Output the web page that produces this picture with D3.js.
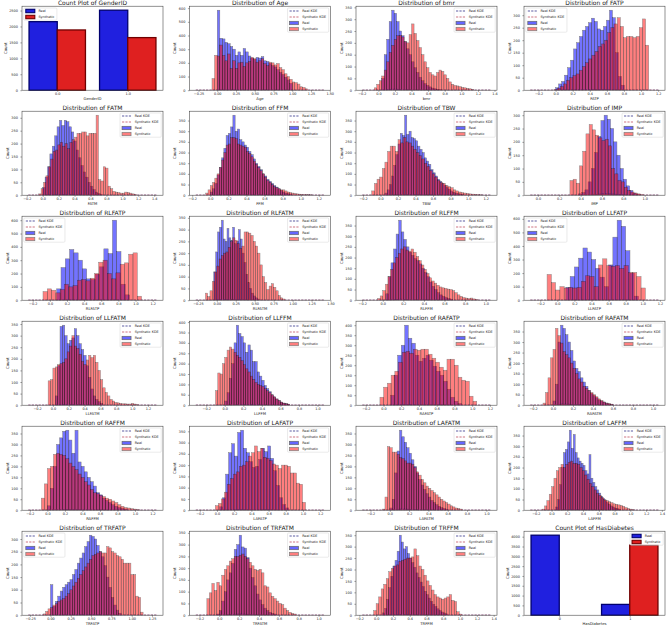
<!DOCTYPE html>
<html>
<head>
<meta charset="utf-8">
<script src="https://d3js.org/d3.v7.min.js"></script>
<style>
  body { margin: 0; background: #fff; }
  svg text { font-family: "DejaVu Sans", sans-serif; fill: #1a1a1a; }
</style>
</head>
<body>
<svg id="figure" width="669" height="626"></svg>
<script>
// ---------------- data ----------------

// count plots
const genderCats = ["0.0", "1.0"];
const genderReal = [2150, 2510];
const genderSyn = [1890, 1650];
const diabetesCats = ["0", "1"];
const diabetesReal = [4075, 550];
const diabetesSyn = [0, 3570];

// histogram counts (real / synthetic), one array per variable
const ageReal = [585,380,375,350,340,320,300,255,280,255,305,280,250,235,225,240,235,245,215,210,195,180,170,150,130,115,95,75,50];
const ageSyn = [85,255,250,330,255,215,265,160,215,160,200,205,175,200,210,240,230,205,215,230,195,180,205,200,185,195,165,150,120,100,80,60,55,45,25,20,10];
const bmrReal = [50,150,215,290,338,325,290,250,230,205,175,150,120,95,75,55,40,28,20,14,9,6,4,2];
const bmrSyn = [10,25,40,60,85,120,160,190,215,230,232,225,205,200,235,280,240,210,180,150,120,95,75,65,60,75,85,80,65,50,35,25,20,18,15,12,10,8,6,4];
const fatpReal = [10,25,35,60,90,120,165,190,215,240,255,270,288,275,245,240,255,280,320,290,150,55,20];
const fatpSyn = [3,8,15,25,40,50,58,65,80,95,110,125,140,155,175,185,200,230,250,265,290,255,210,215,215,210,215,250,285,180];
const fatmReal = [30,70,110,160,190,230,265,290,270,290,285,265,245,210,175,145,115,90,70,50,35,22,12,6,3];
const fatmSyn = [5,25,50,75,110,140,170,175,195,205,190,200,180,205,215,225,240,240,245,245,230,240,240,240,310,60,55,110,105,35,25,15,12,10,8,8,12,10,8,5,3];
const ffmReal = [15,30,55,95,130,175,220,280,290,320,375,300,310,260,250,235,225,205,190,170,150,135,120,100,90,75,65,55,45,38,30,22,15,10,7,5];
const ffmSyn = [10,25,45,60,80,100,130,165,200,235,240,270,270,265,240,235,230,225,205,195,180,160,145,130,115,100,85,70,60,50,40,35,30,25,25,20,15,12,10,8,6,5,4,3,3,2,2];
const tbwReal = [10,25,50,90,140,190,240,290,280,375,285,300,270,265,255,230,215,200,175,160,145,120,105,90,75,65,55,45,35,28,20,14,10,7,5,3];
const tbwSyn = [20,55,75,85,125,155,205,230,230,205,260,245,270,250,245,230,215,200,185,170,150,135,115,100,85,70,60,55,45,40,35,25,20,15,12,10,8,6,5,4,3,2];
const impReal = [5,10,20,50,100,160,220,280,300,285,250,200,150,100,60,35,18,8,3];
const impSyn = [55,60,45,110,165,230,265,245,225,215,205,210,185,100,80,55,50,30,18,12,8,5,3];
const rlfatpReal = [85,245,310,380,355,300,235,160,155,195,250,385,350,600,365,120,40];
const rlfatpSyn = [65,85,75,55,80,120,100,110,150,155,145,165,200,285,300,200,160,205,270,280,345,355,30];
const rlfatmReal = [120,205,290,310,340,260,250,305,265,255,310,240,250,300,260,200,160,110,75,50,30,18,10,5];
const rlfatmSyn = [30,15,40,80,120,145,175,190,200,205,225,250,265,255,240,220,230,290,290,285,275,250,230,200,150,100,75,45,60,70,55,40,20,10,5];
const rlffmReal = [30,110,175,240,310,375,320,285,250,225,210,195,185,170,150,130,110,85,65,50,35,25,18,12,8,5];
const rlffmSyn = [8,20,45,75,110,145,175,200,220,240,250,235,230,240,225,205,185,165,145,125,105,90,80,70,62,58,55,52,50,45,35,25,18,12,10,8,10,6,4];
const llfatpReal = [95,175,245,310,385,355,300,235,170,100,260,465,590,545,365,200,30];
const llfatpSyn = [190,130,75,100,90,95,90,95,140,180,175,100,260,305,255,250,255,235,255,205,205,175,90];
const llfatmReal = [40,170,340,345,300,265,280,290,330,300,265,240,215,170,120,70,40,25,15,8];
const llfatmSyn = [105,110,160,165,175,180,185,200,230,255,300,255,245,220,190,175,195,215,205,215,185,150,110,75,55,40,25,18,12,10,8,6,6,5,5,8,5,3];
const llffmReal = [20,60,130,200,300,385,345,330,300,255,290,265,210,210,160,140,120,95,80,65,50,40,30,22,15,10,7,5];
const llffmSyn = [70,155,150,200,230,265,280,270,255,240,230,215,195,175,160,140,125,110,100,95,90,80,70,60,50,40,30,22,15,10,7,5];
const rafatpReal = [50,150,250,300,400,335,310,250,220,235,250,225,195,170,150,120,80,40,20,8];
const rafatpSyn = [40,90,110,150,170,215,265,270,260,280,275,280,280,255,235,215,190,175,230,230,200,140,125,120,45,20];
const rafatmReal = [20,100,300,380,365,335,300,260,210,175,160,130,110,90,70,55,45,35,25,20,15,10,6,4];
const rafatmSyn = [10,60,130,225,265,365,330,295,255,240,225,200,175,150,125,110,90,80,70,60,50,40,30,22,15,10,8,5];
const raffmReal = [20,100,200,300,330,360,365,320,260,365,220,200,175,150,130,110,80,70,55,45,35,25,18,12,8,5];
const raffmSyn = [55,120,190,200,255,260,255,250,235,215,200,185,165,150,130,115,95,80,75,68,62,55,50,42,35,25,18,12,10,7,5,3];
const lafatpReal = [15,55,160,255,295,240,345,355,275,255,215,190,195,225,275,260,285,230,175,110,55,25,10];
const lafatpSyn = [20,30,50,80,115,140,160,170,195,200,215,240,255,285,260,275,235,230,220,205,200,185,200,200,195,165,165,120,115,35];
const lafatmReal = [10,50,170,270,365,335,310,285,260,230,200,170,140,115,95,75,60,45,35,25,18,12,8,5];
const lafatmSyn = [5,60,290,285,265,265,255,240,235,225,215,215,210,195,175,160,140,125,110,100,90,80,70,60,50,42,35,28,20,15,10,8,5];
const laffmReal = [15,50,120,200,270,285,320,375,290,355,270,245,230,220,210,185,170,260,150,130,110,95,80,65,55,45,35,28,20,15,10,7,5];
const laffmSyn = [5,20,45,75,110,150,185,200,215,200,215,225,230,220,220,215,200,185,165,145,125,110,95,80,70,60,50,45,40,35,30,28,25,22,18,12,8,5,3];
const trfatpReal = [120,35,55,75,95,110,120,130,140,160,180,205,225,245,270,290,315,310,300,275,250,230,195,150,110,70,40,20,8];
const trfatpSyn = [5,15,25,30,40,45,55,60,65,75,85,100,115,130,145,160,175,190,205,220,235,240,245,250,245,245,270,265,250,245,235,230,220,205,205,205,160,160,75,70,12];
const trfatmReal = [5,20,60,100,150,180,220,280,300,340,290,285,245,200,160,125,90,65,45,30,20,12,8,5];
const trfatmSyn = [70,95,135,105,140,125,170,195,210,230,240,250,250,255,260,250,240,225,210,195,190,195,180,125,120,95,80,70,60,50,45,30,20,12,8,5];
const trffmReal = [10,30,70,120,170,215,240,280,350,320,290,300,270,250,230,210,185,165,145,125,105,90,75,60,48,38,28,20,14,10,6];
const trffmSyn = [20,50,80,115,135,160,190,205,215,220,235,240,245,250,250,255,290,260,215,200,175,150,130,110,90,80,75,70,75,80,90,65,60,15,5];

const histVars = ["Age","bmr","FATP","FATM","FFM","TBW","IMP","RLFATP","RLFATM","RLFFM","LLFATP",
                  "LLFATM","LLFFM","RAFATP","RAFATM","RAFFM","LAFATP","LAFATM","LAFFM","TRFATP","TRFATM","TRFFM"];
const realCounts = [ageReal,bmrReal,fatpReal,fatmReal,ffmReal,tbwReal,impReal,rlfatpReal,rlfatmReal,rlffmReal,llfatpReal,
                    llfatmReal,llffmReal,rafatpReal,rafatmReal,raffmReal,lafatpReal,lafatmReal,laffmReal,trfatpReal,trfatmReal,trffmReal];
const synCounts = [ageSyn,bmrSyn,fatpSyn,fatmSyn,ffmSyn,tbwSyn,impSyn,rlfatpSyn,rlfatmSyn,rlffmSyn,llfatpSyn,
                   llfatmSyn,llffmSyn,rafatpSyn,rafatmSyn,raffmSyn,lafatpSyn,lafatmSyn,laffmSyn,trfatpSyn,trfatmSyn,trffmSyn];

// first bin edge and bin width (data units)
const realStart = [0.0,0.04,0.0,0.0,0.0,0.05,0.38,0.08,-0.04,0.03,0.1,0.03,0.0,0.08,0.0,0.0,0.03,0.0,0.05,0.0,-0.025,0.075];
const realStep = [0.0345,0.03,0.035,0.03,0.025,0.025,0.03,0.05,0.025,0.025,0.05,0.03,0.025,0.04,0.025,0.035,0.035,0.025,0.025,0.03,0.025,0.025];
const synStart = [-0.07,-0.05,-0.02,-0.05,-0.05,-0.1,0.30,-0.08,-0.15,-0.05,-0.12,-0.06,-0.1,-0.04,-0.1,-0.07,-0.02,-0.075,-0.12,-0.09,-0.125,-0.03];
const synStep = [0.0345,0.03,0.037,0.03,0.025,0.03,0.03,0.05,0.03,0.025,0.05,0.03,0.025,0.042,0.025,0.035,0.035,0.025,0.03,0.03,0.025,0.03];

// axis limits and tick spacing as shown
const xLimits = [[-0.37,1.51],[-0.27,1.43],[-0.37,1.28],[-0.26,1.51],[-0.23,1.33],[-0.28,1.33],[-0.13,1.19],
                 [-0.325,1.32],[-0.36,1.5],[-0.26,1.11],[-0.39,1.26],[-0.39,1.39],[-0.38,1.14],[-0.31,1.28],
                 [-0.29,1.12],[-0.29,1.32],[-0.32,1.32],[-0.35,1.11],[-0.35,1.44],[-0.35,1.385],[-0.3,1.12],[-0.24,1.44]];
const xTickStep = [0.25,0.2,0.2,0.2,0.2,0.2,0.2,0.2,0.25,0.2,0.2,0.2,0.2,0.2,0.2,0.2,0.2,0.2,0.2,0.25,0.2,0.2];
const legendUpperLeft = ["GenderID","FATP","RLFATP","LLFATP","TRFATP"];

const gridOrder = ["GenderID"].concat(histVars, ["HasDiabetes"]);

// ---------------- layout ----------------
const axW = 141, axH = 84;
const colX = [22, 189.5, 356, 524];
const rowY = d3.range(6).map(r => 6.2 + r * 105);

const svg = d3.select("#figure");

const realKdeColor = "#14147a", synKdeColor = "#b8384c";

function kde(bins, lo, hi) {
    let N = d3.sum(bins, d => d.n);
    let c = bins.map(d => (d.x0 + d.x1) / 2);
    let mean = d3.sum(bins, (d, i) => d.n * c[i]) / N;
    let sd = Math.sqrt(d3.sum(bins, (d, i) => d.n * (c[i] - mean) ** 2) / N);
    let bw = sd * Math.pow(N, -0.2);
    return d3.range(201).map(k => {
        let x = lo + (hi - lo) * k / 200;
        let dens = d3.sum(bins, (d, i) => d.n * Math.exp(-0.5 * ((x - c[i]) / bw) ** 2)) / (N * bw * Math.sqrt(2 * Math.PI));
        return [x, dens];
    });
}

function yStepFor(ymax) {
    return ymax > 1000 ? 500 : (ymax > 450 ? 100 : 50);
}

// frame, ticks, labels and title shared by all panels
function drawAxes(vis, opts) {
    let g = vis.g;

    let xAxis = d3.axisBottom(vis.x).tickValues(opts.xTicks).tickFormat(opts.xFormat)
        .tickSize(1.6).tickPadding(1);
    let gx = g.append("g").attr("transform", "translate(0," + axH + ")").call(xAxis);

    let ystep = yStepFor(vis.y.domain()[1]);
    let yTicks = d3.range(0, vis.y.domain()[1] + 1e-6, ystep);
    let yAxis = d3.axisLeft(vis.y).tickValues(yTicks).tickFormat(d3.format("d"))
        .tickSize(1.6).tickPadding(2.6);
    let gy = g.append("g").call(yAxis);

    [gx, gy].forEach(a => {
        a.attr("font-size", 3.4).attr("font-family", null).style("color", "#333");
        a.select(".domain").remove();
        a.selectAll(".tick line").attr("stroke-width", 0.45);
    });

    g.append("rect")
        .attr("width", axW).attr("height", axH)
        .attr("fill", "none").attr("stroke", "#3a3a3a").attr("stroke-width", 0.55);

    g.append("text")
        .attr("x", axW / 2).attr("y", -1.4)
        .attr("text-anchor", "middle").attr("font-size", 6)
        .text(opts.title);

    g.append("text")
        .attr("x", axW / 2).attr("y", axH + 10.2)
        .attr("text-anchor", "middle").attr("font-size", 3.8)
        .text(opts.xLabel);

    let maxW = d3.max(gy.selectAll("text").nodes(), n => n.getComputedTextLength());
    g.append("text")
        .attr("transform", "translate(" + (-(maxW + 6.8)) + "," + (axH / 2) + ") rotate(-90)")
        .attr("text-anchor", "middle").attr("font-size", 3.9)
        .text("Count");
}

function drawLegend(g, entries, upperLeft) {
    let lg = g.append("g");
    let box = lg.append("rect");
    let rowH = 6, handle = 9, gap = 3.6, pad = 2;
    let texts = [];

    entries.forEach((e, i) => {
        let cy = 3 + i * rowH;
        if (e.kind === "line") {
            lg.append("line")
                .attr("x1", pad).attr("x2", pad + handle).attr("y1", cy).attr("y2", cy)
                .attr("stroke", e.color).attr("stroke-width", 0.7).attr("stroke-dasharray", "2.2,1.2");
        } else {
            lg.append("rect")
                .attr("x", pad).attr("y", cy - 1.7).attr("width", handle).attr("height", 3.4)
                .attr("fill", e.fill).attr("stroke", e.stroke).attr("stroke-width", e.sw)
                .attr("opacity", e.opacity);
        }
        texts.push(lg.append("text")
            .attr("x", pad + handle + gap).attr("y", cy + 1.2)
            .attr("font-size", 3.4).text(e.label));
    });

    let w = pad + handle + gap + d3.max(texts, t => t.node().getComputedTextLength()) + 2.5;
    let h = entries.length * rowH + 0.2;
    box.attr("x", 0).attr("y", 0).attr("width", w).attr("height", h)
        .attr("rx", 1).attr("fill", "#fff").attr("fill-opacity", 0.8)
        .attr("stroke", "#cfcfcf").attr("stroke-width", 0.45);

    let lx = upperLeft ? 1.8 : axW - w - 1.8;
    lg.attr("transform", "translate(" + lx + ",1.8)");
}

/*
 * DistPanel - histogram of real vs synthetic values with KDE lines
 */
class DistPanel {

    constructor(g, idx) {
        this.g = g;
        this.idx = idx;
        this.name = histVars[idx];
        this.initVis();
    }

    initVis() {
        let vis = this;
        vis.x = d3.scaleLinear().domain(xLimits[vis.idx]).range([0, axW]);
        vis.y = d3.scaleLinear().range([axH, 0]);

        vis.clipId = "clip-" + vis.name;
        vis.g.append("clipPath").attr("id", vis.clipId)
            .append("rect").attr("width", axW).attr("height", axH);
        vis.plot = vis.g.append("g").attr("clip-path", "url(#" + vis.clipId + ")");

        vis.wrangleData();
    }

    wrangleData() {
        let vis = this, i = vis.idx;
        let toBins = (counts, s, w) => counts.map((n, k) => ({x0: s + k * w, x1: s + (k + 1) * w, n: n}));

        vis.realBins = toBins(realCounts[i], realStart[i], realStep[i]);
        vis.synBins = toBins(synCounts[i], synStart[i], synStep[i]);

        let ymax = d3.max(vis.realBins.concat(vis.synBins), d => d.n) * 1.05;
        vis.y.domain([0, ymax]);

        let [lo, hi] = xLimits[i];
        let inset = (hi - lo) * 0.045;
        vis.kdeReal = kde(vis.realBins, lo + inset, hi - inset);
        vis.kdeSyn = kde(vis.synBins, lo + inset, hi - inset);

        vis.updateVis();
    }

    updateVis() {
        let vis = this;

        let drawBars = (bins, cls, fill, op) => {
            vis.plot.selectAll("." + cls)
                .data(bins.filter(d => d.n > 0))
                .enter().append("rect")
                .attr("class", cls)
                .attr("x", d => vis.x(d.x0))
                .attr("width", d => vis.x(d.x1) - vis.x(d.x0))
                .attr("y", d => vis.y(d.n))
                .attr("height", d => axH - vis.y(d.n))
                .attr("fill", fill)
                .attr("stroke", "#000")
                .attr("stroke-width", 0.45)
                .attr("opacity", op);
        };
        drawBars(vis.realBins, "bar-real", "#0000ff", 0.55);
        drawBars(vis.synBins, "bar-syn", "#ff0000", 0.5);

        let line = d3.line().x(d => vis.x(d[0])).y(d => vis.y(d[1]));
        vis.plot.append("path").datum(vis.kdeReal).attr("d", line)
            .attr("fill", "none").attr("stroke", realKdeColor).attr("stroke-width", 0.7)
            .attr("stroke-dasharray", "2.2,1.2");
        vis.plot.append("path").datum(vis.kdeSyn).attr("d", line)
            .attr("fill", "none").attr("stroke", synKdeColor).attr("stroke-width", 0.7)
            .attr("stroke-dasharray", "2.2,1.2");

        let [lo, hi] = xLimits[vis.idx], step = xTickStep[vis.idx];
        let xTicks = d3.range(Math.ceil(lo / step - 1e-9), Math.floor(hi / step + 1e-9) + 1).map(k => k * step);

        drawAxes(vis, {
            xTicks: xTicks,
            xFormat: d3.format(step === 0.25 ? ".2f" : ".1f"),
            title: "Distribution of " + vis.name,
            xLabel: vis.name
        });

        drawLegend(vis.g, [
            {kind: "line", label: "Real KDE", color: realKdeColor},
            {kind: "line", label: "Synthetic KDE", color: synKdeColor},
            {kind: "patch", label: "Real", fill: "#0000ff", stroke: "#000", sw: 0.7, opacity: 0.6},
            {kind: "patch", label: "Synthetic", fill: "#ff0000", stroke: "#000", sw: 0.7, opacity: 0.5}
        ], legendUpperLeft.includes(vis.name));
    }
}

/*
 * CountPanel - side by side bars per category
 */
class CountPanel {

    constructor(g, name, cats, real, syn) {
        this.g = g;
        this.name = name;
        this.cats = cats;
        this.real = real;
        this.syn = syn;
        this.initVis();
    }

    initVis() {
        let vis = this;
        vis.x = d3.scaleLinear().domain([-0.5, vis.cats.length - 0.5]).range([0, axW]);
        vis.y = d3.scaleLinear().range([axH, 0]);
        vis.wrangleData();
    }

    wrangleData() {
        let vis = this;
        vis.bars = [];
        vis.cats.forEach((c, i) => {
            vis.bars.push({pos: i - 0.4, n: vis.real[i], fill: "#2020df", stroke: "#00006e"});
            vis.bars.push({pos: i, n: vis.syn[i], fill: "#df2020", stroke: "#700000"});
        });
        vis.bars = vis.bars.filter(d => d.n > 0);
        vis.y.domain([0, d3.max(vis.bars, d => d.n) * 1.05]);
        vis.updateVis();
    }

    updateVis() {
        let vis = this;

        vis.g.selectAll(".bar")
            .data(vis.bars)
            .enter().append("rect")
            .attr("class", "bar")
            .attr("x", d => vis.x(d.pos))
            .attr("width", d => vis.x(d.pos + 0.4) - vis.x(d.pos))
            .attr("y", d => vis.y(d.n))
            .attr("height", d => axH - vis.y(d.n))
            .attr("fill", d => d.fill)
            .attr("stroke", d => d.stroke)
            .attr("stroke-width", 1.3);

        drawAxes(vis, {
            xTicks: vis.cats.map((c, i) => i),
            xFormat: i => vis.cats[i],
            title: "Count Plot of " + vis.name,
            xLabel: vis.name
        });

        drawLegend(vis.g, [
            {kind: "patch", label: "Real", fill: "#2020df", stroke: "#00006e", sw: 1.1, opacity: 1},
            {kind: "patch", label: "Synthetic", fill: "#df2020", stroke: "#700000", sw: 1.1, opacity: 1}
        ], legendUpperLeft.includes(vis.name));
    }
}

// ---------------- build the grid ----------------
gridOrder.forEach((name, p) => {
    let row = Math.floor(p / 4), col = p % 4;
    let g = svg.append("g").attr("transform", "translate(" + colX[col] + "," + rowY[row] + ")");
    if (name === "GenderID") {
        new CountPanel(g, name, genderCats, genderReal, genderSyn);
    } else if (name === "HasDiabetes") {
        new CountPanel(g, name, diabetesCats, diabetesReal, diabetesSyn);
    } else {
        new DistPanel(g, histVars.indexOf(name));
    }
});
</script>
</body>
</html>
